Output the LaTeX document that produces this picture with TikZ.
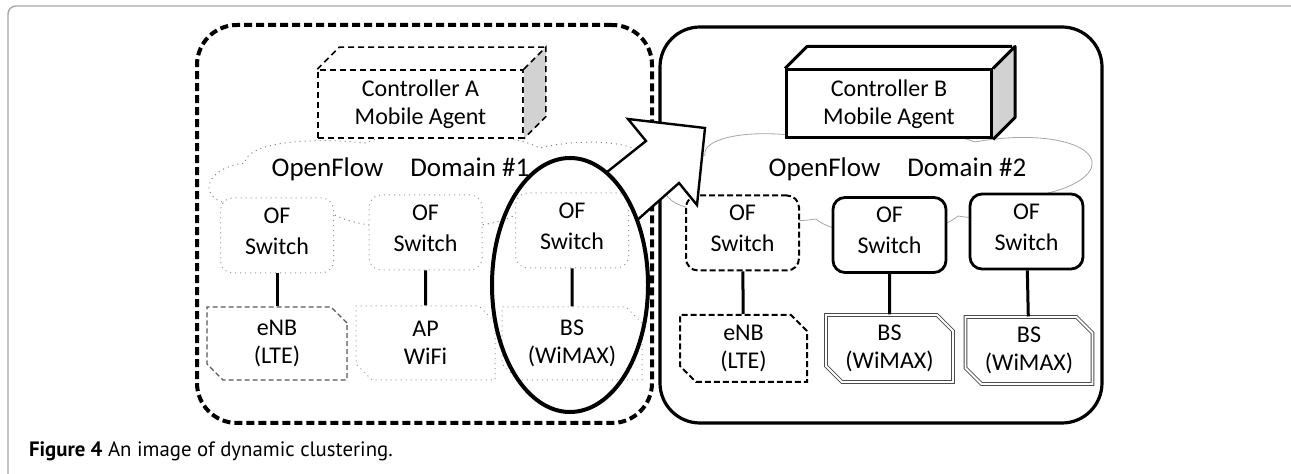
\documentclass[tikz,border=0pt]{standalone}
\usepackage{fontspec}
\setmainfont{Carlito}
\newfontfamily\capfont{PT Sans}
\usetikzlibrary{shapes.geometric, shapes.misc}
\newcommand\twelve{\fontsize{12}{14}\selectfont}

\begin{document}
\begin{tikzpicture}[x=0.5pt, y=-0.5pt,
  ctrl/.style = {draw, fill=white, align=center, font=\twelve, minimum width=102.5pt, minimum height=34pt, inner sep=0pt},
  ofsw/.style = {rounded corners=6pt, fill=white, align=center, font=\fontsize{12}{15.5}\selectfont, minimum width=56.5pt, minimum height=37.5pt, inner sep=0pt},
  radio/.style = {chamfered rectangle, chamfered rectangle xsep=4pt, chamfered rectangle ysep=4pt, chamfered rectangle corners={north east, south west}, fill=white, align=center, font=\twelve, inner sep=0pt},
  wire/.style = {line width=1.5pt},
  dash1/.style = {draw=gray!80, dotted, line width=0.5pt},
  cldlabel/.style = {anchor=base, font=\fontsize{13.5}{16}\selectfont}]
\useasboundingbox (0,0) rectangle (1291,474);
\draw[gray!70, line width=0.7pt, rounded corners=4pt] (1291,6) -- (8,6) -- (8,474);

% the two domains
\node[draw, dash pattern=on 4pt off 2pt, line width=2pt, rounded corners=20pt, minimum width=227.5pt, minimum height=199pt] (domA) at (424.5,224) {};
\node[draw, line width=1.6pt, rounded corners=20pt, minimum width=221pt, minimum height=198pt] (domB) at (881,225) {};

% clouds
\draw[gray, dotted, line width=0.5pt] (222,202) .. controls (200,195) and (205,168) .. (245,163)
  .. controls (245,145) and (300,136) .. (365,143) .. controls (400,128) and (500,128) .. (540,148)
  .. controls (580,138) and (640,140) .. (648,160) .. controls (665,175) and (650,200) .. (625,205)
  .. controls (600,215) and (560,215) .. (520,212) .. controls (490,235) and (360,235) .. (330,212)
  .. controls (300,220) and (240,215) .. (222,202) -- cycle;
\draw[gray!70, line width=0.4pt] (686,207) .. controls (655,200) and (650,165) .. (705,155)
  .. controls (702,140) and (740,130) .. (790,135) .. controls (850,125) and (930,125) .. (975,142)
  .. controls (1040,130) and (1095,143) .. (1092,165) .. controls (1090,180) and (1062,190) .. (1048,193)
  .. controls (1030,210) and (990,222) .. (958,216) .. controls (930,240) and (840,240) .. (816,219)
  .. controls (780,225) and (720,215) .. (686,207) -- cycle;
\node[cldlabel] (ofA) at (400.5,177) {OpenFlow\quad Domain \#1};
\node[cldlabel] (ofB) at (897.5,177) {OpenFlow\quad Domain \#2};

% controllers
\node[ctrl, dash pattern=on 3pt off 2pt, line width=0.8pt] (ctlA) at (420.5,104) {Controller A\\Mobile Agent};
\draw[dash pattern=on 3pt off 2pt, line width=0.8pt] (ctlA.north west) -- ++(22,-22) -- ++(205,0);
\filldraw[fill=gray!35, dash pattern=on 3pt off 2pt, line width=0.8pt] (ctlA.north east) -- ++(22,-22) -- ([shift={(22,-22)}]ctlA.south east) -- (ctlA.south east);
\node[ctrl, line width=1.5pt] (ctlB) at (889,104) {Controller B\\Mobile Agent};
\draw[line width=1.5pt, line join=round] (ctlB.north west) -- ++(22,-22) -- ++(205,0);
\filldraw[fill=gray!35, line width=1.5pt, line join=round] (ctlB.north east) -- ++(22,-22) -- ([shift={(22,-22)}]ctlB.south east) -- (ctlB.south east);

% domain #2
\node[ofsw, draw, dash pattern=on 3pt off 1.5pt, line width=1pt] (T1) at (742.5,233) {OF\\Switch\strut};
\node[ofsw, draw, line width=1.4pt] (T2) at (889.5,235) {OF\\Switch\strut};
\node[ofsw, draw, line width=1.4pt] (T3) at (1026.5,231.5) {OF\\Switch\strut};
\node[radio, draw, dash pattern=on 3pt off 1.5pt, line width=1pt, minimum width=63.5pt, minimum height=33.5pt] (E1) at (743.5,348.5) {eNB\\(LTE)};
\node[radio, draw=gray!60!black, double, double distance=0.9pt, line width=0.5pt, minimum width=63.5pt, minimum height=33.5pt] (E2) at (889.5,348.5) {BS\\(WiMAX)};
\node[radio, draw=gray!60!black, double, double distance=0.9pt, line width=0.5pt, minimum width=63.5pt, minimum height=33.5pt] (E3) at (1029,350.5) {BS\\(WiMAX)};
\draw[wire] (T1) -- (E1);
\draw[wire] (T2) -- (E2);
\draw[wire] (T3) -- (E3);

% moving the cluster
\node[ellipse, minimum width=78pt, minimum height=127pt, inner sep=0pt] (sel) at (570,285) {};
\draw[line width=1.2pt, fill=white, line join=miter] (sel.72) -- (646,141) -- (628,119) -- (705,128) -- (697,205) -- (679,183) -- (sel.44);

% domain #1
\node[ofsw, dash1] (S1) at (277,235.5) {OF\\Switch\strut};
\node[ofsw, dash1] (S2) at (425.5,232.5) {OF\\Switch\strut};
\node[ofsw, dash1] (S3) at (572,230.5) {OF\\Switch\strut};
\node[radio, draw=gray!70!black, dash pattern=on 2.5pt off 1.5pt, line width=0.6pt, minimum width=70pt, minimum height=36.5pt] (D1) at (277,343.5) {eNB\\(LTE)};
\node[radio, dash1, minimum width=69.5pt, minimum height=37pt] (D2) at (425.5,343) {AP\\WiFi};
\node[radio, dash1, minimum width=70pt, minimum height=36.5pt] (D3) at (572,343.5) {BS\\(WiMAX)};
\draw[wire] (S1) -- (D1);
\draw[wire] (S2) -- (D2);
\draw[wire] (S3) -- (D3);
\draw[line width=2pt] (sel.center) ellipse [x radius=78, y radius=127];

\node[anchor=base west, font=\capfont\fontsize{10.4}{12}\selectfont] (cap) at (22,457) {\textbf{Figure 4} An image of dynamic clustering.};
\end{tikzpicture}
\end{document}
